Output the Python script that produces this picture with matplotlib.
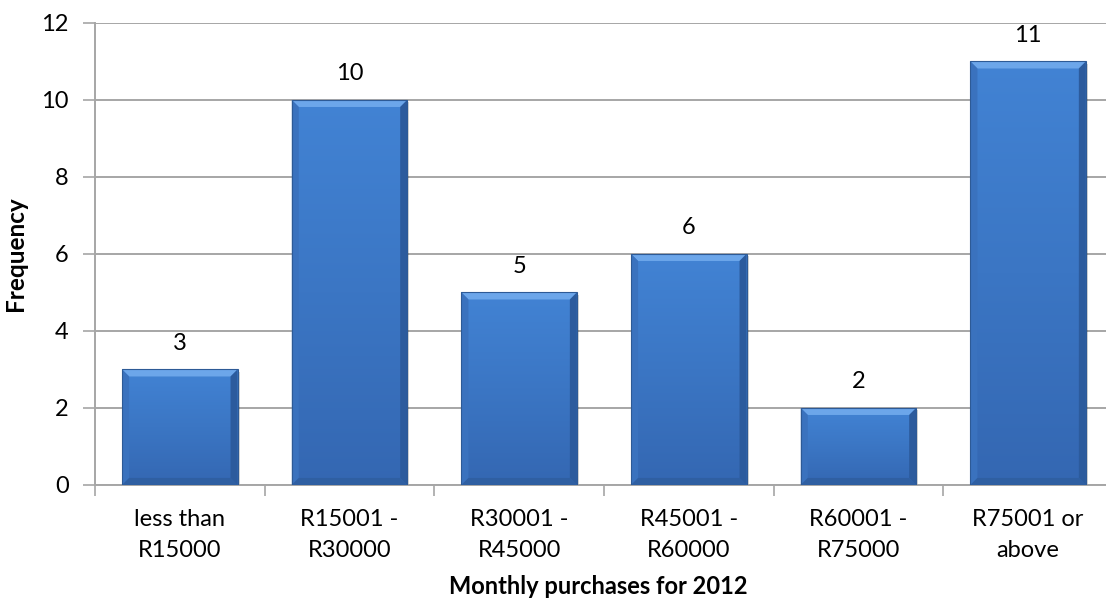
import numpy as np
import matplotlib
matplotlib.use("Agg")
import matplotlib.pyplot as plt
from matplotlib.patches import Polygon, Rectangle
from matplotlib.colors import LinearSegmentedColormap

plt.rcParams['font.family'] = ['Lato', 'DejaVu Sans']

categories = ["less than\nR15000", "R15001 -\nR30000", "R30001 -\nR45000",
              "R45001 -\nR60000", "R60001 -\nR75000", "R75001 or\nabove"]
frequency = [3, 10, 5, 6, 2, 11]
y_ticks = [0, 2, 4, 6, 8, 10, 12]

FS = 17

fig = plt.figure(figsize=(11.06, 6.02), dpi=100)
ax = fig.add_axes([0.0859, 0.1944, 0.9204, 0.7674])

x = np.arange(len(categories))
bars = ax.bar(x, frequency, width=0.68, color="#3D78C6", zorder=3)

face_cmap = LinearSegmentedColormap.from_list(
    "face", ["#3467B2", "#3B76C4", "#4283D4"])

# bevel size in pixels, converted to data units
px_x = 7 / 170.0
px_y = 7 / 38.5
for b in bars:
    x0, w, h = b.get_x(), b.get_width(), b.get_height()
    x1 = x0 + w
    b.set_visible(False)
    # soft shadow
    ax.add_patch(Rectangle((x0 + 0.012, -0.06), w, h, color="#000000",
                           alpha=0.16, lw=0, zorder=2))
    # face gradient: darker at the base, lighter near the top
    grad = np.linspace(0, 1, 256).reshape(-1, 1)
    ax.imshow(grad, cmap=face_cmap, aspect="auto", origin="lower",
              extent=(x0, x1, 0, h), zorder=3, interpolation="bilinear")
    bx, by = px_x, min(px_y, h * 0.3)
    top = Polygon([(x0, h), (x1, h), (x1 - bx, h - by), (x0 + bx, h - by)],
                  closed=True, color="#6CA6EA", lw=0, zorder=4)
    left = Polygon([(x0, h), (x0 + bx, h - by), (x0 + bx, by), (x0, 0)],
                   closed=True, color="#3A72BE", lw=0, zorder=4)
    right = Polygon([(x1, h), (x1 - bx, h - by), (x1 - bx, by), (x1, 0)],
                    closed=True, color="#2C5B9D", lw=0, zorder=4)
    bottom = Polygon([(x0, 0), (x1, 0), (x1 - bx, by), (x0 + bx, by)],
                     closed=True, color="#2F5FA2", lw=0, zorder=4)
    for p in (top, left, right, bottom):
        ax.add_patch(p)
    ax.add_patch(Rectangle((x0, 0), w, h, fill=False, ec="#2D5A96",
                           lw=0.8, zorder=5))
    ax.text(x0 + w / 2, h + 0.68, f"{h:g}", ha="center", va="center",
            fontsize=FS, color="#000000", zorder=6)

ax.set_xlim(-0.5, len(categories) - 0.5)
ax.set_ylim(0, 12)
ax.set_yticks(y_ticks)
ax.set_yticklabels([str(t) for t in y_ticks], fontsize=FS)

ax.set_xticks(x)
ax.set_xticklabels(categories, fontsize=FS, linespacing=1.6)
ax.tick_params(axis="x", which="major", length=0, pad=17)
ax.set_xticks(np.arange(-0.5, len(categories), 1.0), minor=True)
ax.tick_params(axis="x", which="minor", length=8, color="#A6A6A6", width=1.2)
ax.tick_params(axis="y", length=9, color="#A6A6A6", width=1.2, pad=10)

ax.grid(axis="y", color="#A6A6A6", lw=1.4, zorder=0)
ax.set_axisbelow(True)
for s in ("top", "right"):
    ax.spines[s].set_visible(False)
for s in ("left", "bottom"):
    ax.spines[s].set_color("#A6A6A6")
    ax.spines[s].set_linewidth(1.4)

ax.set_xlabel("Monthly purchases for 2012", fontsize=FS, fontweight="bold")
ax.xaxis.set_label_coords(0.494, -0.195)
ax.set_ylabel("Frequency", fontsize=17.5, fontweight="bold")
ax.yaxis.set_label_coords(-0.067, 0.5)

fig.savefig("out.png", dpi=100)
